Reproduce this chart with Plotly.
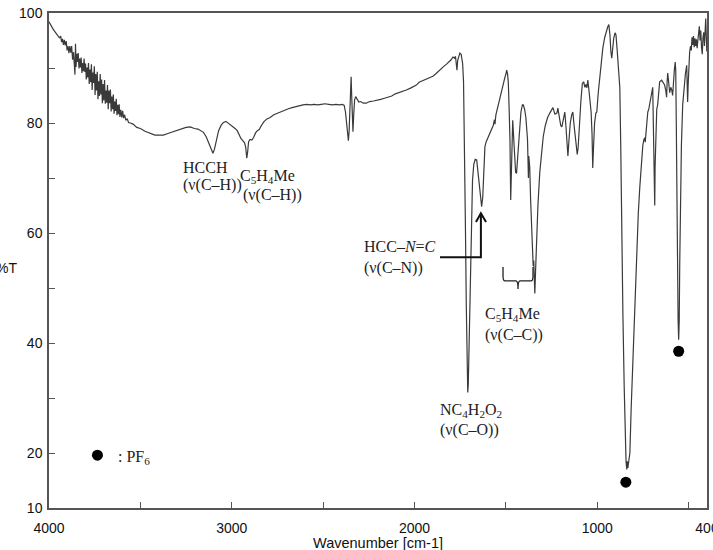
import plotly.graph_objects as go

# ---- data: IR spectrum (wavenumber cm-1, %T) ----
wavenumber = [
    4000, 3990, 3980, 3970, 3960, 3950, 3943,
    3936, 3931, 3926, 3921, 3916, 3911, 3906, 3901, 3896, 3891, 3886, 3881,
    3876, 3871, 3866,
    3862, 3858, 3855, 3852,
    3848, 3844, 3840, 3836, 3832, 3828, 3824, 3820, 3816, 3812, 3808, 3804,
    3800, 3796, 3792, 3788, 3784, 3780, 3776, 3772, 3768, 3764, 3760, 3756,
    3752, 3748, 3744, 3740, 3736, 3732, 3728, 3724, 3720, 3716, 3712, 3708,
    3704, 3700, 3696, 3692, 3688, 3684, 3680, 3676, 3672, 3668, 3664, 3660,
    3656, 3652, 3648, 3644, 3640, 3636, 3632, 3628, 3624, 3620, 3616, 3612,
    3607, 3602, 3597, 3592, 3586, 3580, 3572, 3565, 3555,
    3540, 3520, 3500, 3475, 3445, 3420, 3395, 3374, 3350, 3325,
    3298, 3275, 3250, 3227, 3205, 3185, 3172, 3155, 3140, 3125, 3112, 3103,
    3095, 3085, 3072, 3058, 3045, 3032, 3020, 3008, 2995, 2982, 2970, 2960,
    2950, 2940, 2930, 2924, 2918, 2913, 2908, 2900, 2890, 2880, 2870, 2860,
    2850, 2840, 2825, 2810, 2790, 2770, 2750, 2730, 2710, 2690, 2670, 2650,
    2630, 2610, 2590, 2570, 2550, 2530, 2510, 2490, 2470, 2450, 2430, 2410,
    2395, 2385, 2378, 2372, 2366, 2362, 2358, 2354, 2350, 2347, 2344, 2341,
    2337, 2333, 2328, 2322, 2315, 2305, 2295, 2280, 2265, 2245, 2225, 2205,
    2185, 2165, 2145, 2125, 2105, 2085, 2065, 2045, 2025, 2008, 1990, 1975,
    1960, 1945, 1930, 1915, 1900, 1885, 1870, 1855, 1840, 1825, 1812, 1800,
    1790, 1782, 1776, 1771, 1768, 1764, 1757, 1752, 1745, 1737, 1732, 1727,
    1722, 1717, 1713, 1709, 1706, 1702, 1698, 1694, 1689, 1683, 1676, 1668,
    1660, 1652, 1645, 1638, 1633, 1627, 1621, 1615, 1608, 1597, 1588, 1580,
    1569, 1563, 1560, 1555, 1548, 1540, 1533, 1525, 1517, 1510, 1505, 1500,
    1496, 1491, 1487, 1482, 1478, 1474, 1470, 1466, 1463, 1458, 1452, 1447,
    1442, 1436, 1428, 1418, 1410, 1405, 1398, 1391, 1382, 1377, 1375, 1370,
    1365, 1360, 1355, 1351, 1348, 1345, 1342, 1338, 1333, 1325, 1315, 1305,
    1296, 1285, 1272, 1260, 1250, 1243, 1232, 1221, 1216, 1208, 1200, 1194,
    1186, 1178, 1172, 1166, 1161, 1156, 1148, 1140, 1134, 1127, 1118, 1110,
    1105, 1098, 1090, 1082, 1075, 1068, 1062, 1057, 1052, 1046, 1040, 1034,
    1029, 1025, 1021, 1015, 1008, 1003, 995, 986, 978, 970, 960, 950,
    943, 937, 931, 926, 921, 916, 910, 903, 898, 892, 886, 880,
    877, 872, 866, 860, 853, 847, 843, 839, 836, 833, 829, 822,
    815, 807, 799, 791, 784, 776, 768, 760, 751, 745, 741, 738,
    734, 729, 724, 718, 712, 705, 697, 692, 688, 686, 684, 680,
    675, 670, 664, 659, 648, 640, 632, 626, 621, 618, 615, 610,
    604, 598, 593, 588, 584, 579, 574, 571, 568, 565, 561, 558,
    555, 552, 549, 545, 540, 533, 526, 518, 511, 508, 506, 503,
    499, 495, 490, 486, 482, 478, 474, 470, 466, 462, 458, 454,
    450, 446, 442, 438, 434, 430, 426, 422, 418, 414, 410, 407,
    404, 401, 400,
]
transmittance = [
    98.4, 97.7, 97.2, 96.7, 96.3, 95.9, 95.5,
    95.8, 94.7, 95.3, 94.2, 95.1, 94.1, 94.9, 93.2, 94.0, 92.7, 94.0, 92.8,
    94.0, 91.5, 92.9,
    90.9, 88.8, 94.4, 90.2,
    92.6, 91.1, 92.7, 89.9, 91.7, 90.1, 91.9, 89.1, 90.9, 89.4, 91.7, 89.3,
    90.8, 87.9, 90.1, 88.3, 90.9, 87.1, 89.7, 87.4, 90.7, 86.0, 89.2, 87.3,
    90.3, 85.1, 88.9, 85.9, 89.3, 84.3, 87.6, 84.9, 88.9, 85.2, 87.9, 83.6,
    87.1, 84.1, 87.8, 83.5, 85.9, 83.7, 86.9, 82.5, 85.9, 83.6, 86.1, 82.1,
    84.8, 82.5, 85.2, 81.7, 83.9, 82.2, 84.4, 81.4, 83.3, 81.6, 83.4, 81.1,
    82.4, 81.0, 82.2, 80.9, 81.5, 80.5, 80.8, 80.1, 80.0,
    79.8, 79.2, 79.0, 78.5, 78.1, 77.8, 77.8, 77.8, 78.1, 78.4,
    78.7, 79.0, 79.2, 79.3, 79.0, 78.9, 78.7, 78.3, 77.5, 76.2, 75.0, 74.5,
    75.2, 76.8, 78.6, 79.6, 80.1, 80.3, 80.0, 79.8, 79.4, 79.0, 78.6, 77.8,
    77.2, 76.8, 76.4, 75.6, 73.6, 74.8, 76.6, 77.0, 76.9, 77.4, 78.2, 78.6,
    78.8, 79.4, 80.2, 80.7, 81.0, 81.5, 81.8, 82.1, 82.3, 82.6, 82.8, 83.0,
    83.1, 83.3, 83.4, 83.3, 83.4, 83.3, 83.4, 83.5, 83.4, 83.3, 83.4, 83.3,
    83.4, 83.2, 82.0, 79.5, 77.2, 76.8, 78.5, 83.0, 88.0, 88.4, 85.0, 79.0,
    78.4, 81.5, 84.2, 84.8, 84.3, 83.8, 83.9, 83.6, 83.6, 83.9, 84.0, 84.1,
    84.3, 84.5, 84.7, 84.9, 85.3, 85.5, 85.8, 86.0, 86.3, 86.6, 86.9, 87.4,
    87.6, 87.8, 88.0, 88.2, 88.5, 88.9, 89.4, 89.8, 90.3, 90.7, 91.1, 91.5,
    92.0, 91.8, 92.1, 90.6, 89.6, 91.4, 92.4, 92.7, 92.5, 90.8, 87.5, 78.0,
    62.0, 47.0, 37.0, 31.0, 32.5, 39.0, 47.0, 55.0, 63.0, 69.5, 72.5, 73.4,
    73.3, 71.0, 68.0, 65.8, 64.8, 66.5, 71.0, 75.7, 76.6, 77.5, 78.2, 79.0,
    79.6, 80.6, 79.8, 81.5, 82.5, 83.6, 84.8, 86.0, 87.0, 87.9, 88.4, 88.9,
    89.6, 88.9, 87.3, 82.0, 76.9, 66.0, 74.0, 80.5, 80.5, 77.5, 73.0, 71.0,
    70.9, 73.5, 78.5, 82.0, 83.3, 83.3, 82.5, 81.0, 77.0, 70.0, 74.0, 72.0,
    66.0, 62.0, 57.0, 54.0, 55.0, 51.0, 49.0, 53.0, 58.0, 65.0, 71.0, 75.0,
    77.5, 79.5, 81.0, 81.8, 82.5, 82.8, 81.6, 81.8, 82.7, 81.0, 79.5, 79.3,
    81.0, 82.0, 79.5, 76.0, 74.0, 76.5, 80.0, 81.5, 82.0, 79.5, 76.0, 74.3,
    75.5, 80.0, 84.0, 87.2, 87.5, 86.5, 87.0, 86.4, 87.8, 86.0, 84.0, 82.0,
    78.0, 71.8, 75.5, 80.0, 81.8, 82.0, 85.5, 88.7, 91.0, 93.6, 95.5, 96.8,
    97.5, 97.9, 96.0, 93.0, 91.8, 93.5, 95.5, 96.4, 96.0, 93.5, 90.5, 88.0,
    86.4, 76.0, 58.0, 45.0, 32.0, 22.0, 18.5, 17.0, 18.5, 17.3, 18.5, 20.0,
    28.0, 36.0, 44.0, 51.0, 57.5, 63.5, 68.2, 73.0, 76.0, 77.0, 77.3, 76.5,
    78.5, 81.0, 82.0, 82.6, 83.5, 85.0, 86.5, 76.0, 66.0, 65.0, 72.0, 80.0,
    82.5, 83.3, 86.0, 87.5, 87.8, 87.3, 86.9, 86.0, 84.7, 87.5, 89.1, 87.5,
    85.5, 86.5, 86.0, 85.0, 87.5, 89.5, 91.1, 89.5, 80.0, 66.0, 52.0, 44.0,
    40.6, 44.0, 55.0, 67.0, 76.0, 83.3, 86.5, 89.0, 90.5, 88.0, 83.8, 87.0,
    91.0, 92.9, 94.0, 93.2, 95.6, 94.2, 95.8, 93.8, 95.4, 94.0, 95.2, 93.6,
    95.0, 96.6, 97.6, 95.0, 96.8, 93.8, 92.5, 95.5, 96.5, 94.0, 97.5, 99.0,
    96.0, 93.0, 94.0,
]
assert len(wavenumber) == len(transmittance), (len(wavenumber), len(transmittance))

# PF6 band markers
pf6_wn = [844, 555]
pf6_T = [14.7, 38.5]
legend_dot_wn = [3735]
legend_dot_T = [19.6]

x_major = [4000, 3000, 2000, 1000, 400]
x_major_text = ["4000", "3000", "2000", "1000", "400"]
x_minor = [3500, 2500, 1500, 500]
y_major = [10, 20, 40, 60, 80, 100]
y_major_text = ["10", "20", "40", "60", "80", "100"]
y_minor = [30, 50, 70, 90]

# annotation labels: (text, wavenumber at left edge, %T at middle)
labels = [
    ("HCCH", 3276, 72.0),
    ("(ν(C–H))", 3276, 68.7),
    ("C<sub>5</sub>H<sub>4</sub>Me", 2964, 70.2),
    ("(ν(C–H))", 2948, 66.9),
    ("HCC–<i>N</i>=<i>C</i>", 2287, 57.5),
    ("(ν(C–N))", 2287, 53.7),
    ("C<sub>5</sub>H<sub>4</sub>Me", 1626, 45.2),
    ("(ν(C–C))", 1626, 41.5),
    ("NC<sub>4</sub>H<sub>2</sub>O<sub>2</sub>", 1872, 27.8),
    ("(ν(C–O))", 1872, 24.2),
    (": PF<sub>6</sub>", 3631, 19.1),
]

fig = go.Figure()
fig.add_trace(go.Scatter(x=wavenumber, y=transmittance, mode="lines",
                         line=dict(color="#3a3a3a", width=1.2),
                         hoverinfo="skip", showlegend=False))
fig.add_trace(go.Scatter(x=pf6_wn + legend_dot_wn, y=pf6_T + legend_dot_T,
                         mode="markers",
                         marker=dict(color="black", size=11),
                         showlegend=False))

serif = "Liberation Serif, Times New Roman, serif"
for text, xw, yt in labels:
    fig.add_annotation(x=xw, y=yt, xref="x", yref="y", text=text,
                       showarrow=False, xanchor="left", yanchor="middle",
                       font=dict(family=serif, size=16, color="#222"))

# arrow for HCC-N=C
fig.add_shape(type="path",
              path="M 1861,55.6 L 1637,55.6 L 1637,63.4",
              xref="x", yref="y", line=dict(color="#111", width=2))
fig.add_shape(type="path",
              path="M 1664,62.0 L 1637,63.6 L 1609,62.0",
              xref="x", yref="y", line=dict(color="#111", width=2))
# brace for C5H4Me (C-C)
fig.add_shape(type="path",
              path="M 1516,53.8 L 1516,52.2 Q 1516,51.3 1505,51.3 L 1445,51.3 "
                   "Q 1434,51.3 1434,49.8 Q 1434,51.3 1423,51.3 L 1363,51.3 "
                   "Q 1352,51.3 1352,52.2 L 1352,53.8",
              xref="x", yref="y", line=dict(color="#222", width=1.3))

# axis label %T and x title
fig.add_annotation(x=-0.046, y=0.485, xref="paper", yref="paper", text="%T",
                   showarrow=False, xanchor="right", yanchor="middle",
                   font=dict(family="Liberation Sans, Arial, sans-serif", size=14, color="#111"))
fig.add_annotation(x=0.5, y=-0.071, xref="paper", yref="paper",
                   text="Wavenumber [cm-1]", showarrow=False,
                   xanchor="center", yanchor="middle",
                   font=dict(family="Liberation Sans, Arial, sans-serif", size=14.5, color="#111"))

axis_common = dict(showgrid=False, zeroline=False, showline=True, linecolor="#555",
                   linewidth=1.5, mirror=True, ticks="inside", ticklen=6,
                   tickwidth=1.2, tickcolor="#555", ticklabeloverflow="allow",
                   automargin=False,
                   tickfont=dict(family="Liberation Sans, Arial, sans-serif", size=14, color="#111"))

fig.update_xaxes(range=[4000, 400], tickmode="array", tickvals=x_major,
                 ticktext=x_major_text, ticklabelstandoff=6,
                 minor=dict(tickmode="array", tickvals=x_minor, ticks="inside",
                            ticklen=6, tickwidth=1.2, tickcolor="#555"),
                 **axis_common)
fig.update_yaxes(range=[10, 100], tickmode="array", tickvals=y_major,
                 ticktext=y_major_text, ticklabelstandoff=2,
                 minor=dict(tickmode="array", tickvals=y_minor, ticks="inside",
                            ticklen=6, tickwidth=1.2, tickcolor="#555"),
                 **axis_common)

fig.update_layout(width=713, height=550,
                  margin=dict(l=49, r=6, t=13, b=42),
                  paper_bgcolor="white", plot_bgcolor="white",
                  showlegend=False)

fig.write_html("out.html")
